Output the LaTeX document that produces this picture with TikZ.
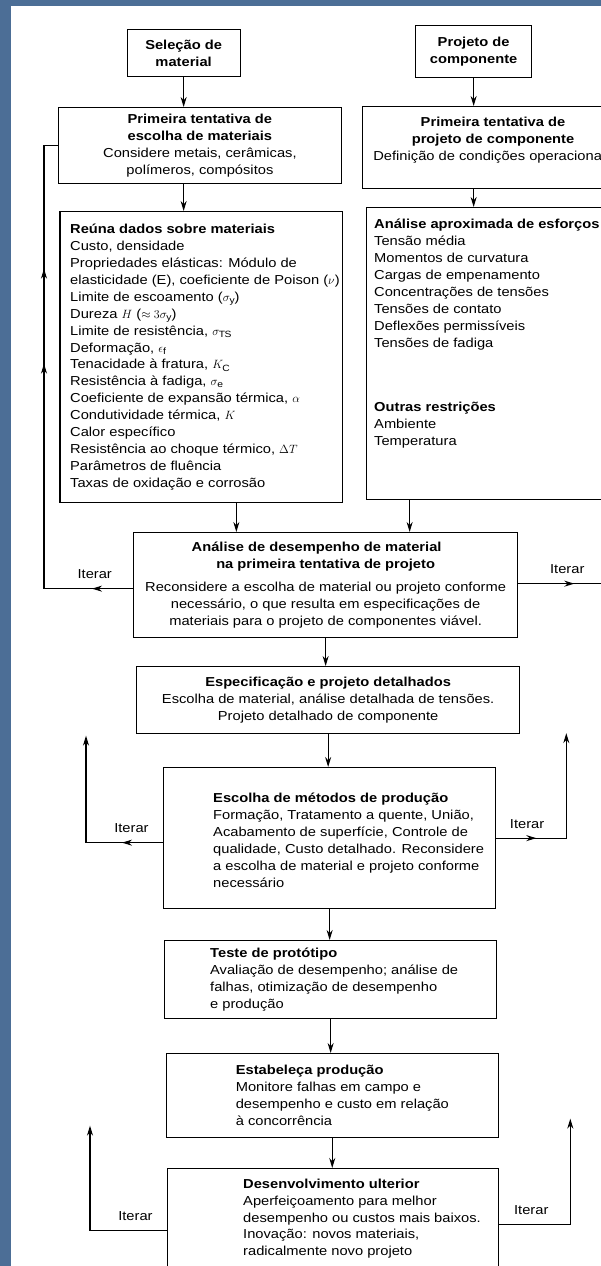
\documentclass[tikz,border=0pt]{standalone}
\usepackage{fontspec}
\setmainfont{Liberation Sans}[FakeStretch=1.13]
\usetikzlibrary{arrows.meta,decorations.markings}
\definecolor{SlideBlue}{RGB}{76,110,150}
\newcommand{\boxfont}{\fontsize{13}{16.9}\selectfont}
\newcommand{\tipmark}{\arrow{Stealth[length=10pt, width=6pt]}}

\begin{document}
\begin{tikzpicture}[
    x=1pt, y=-1pt,
    stagebox/.style={draw=black, line width=1.3pt, anchor=north west, inner sep=2pt,
                     align=center, font=\boxfont},
    stagetext/.style={inner sep=0pt, align=left, font=\boxfont},
    arrow/.style={-{Stealth[length=10pt, width=6pt]}, line width=1.2pt},
    backline/.style={line width=1.2pt},
    iterlabel/.style={above=9pt, inner sep=0pt, font=\boxfont},
    midtips/.style={postaction={decorate}, decoration={markings, #1}}
]
    % slide background
    \useasboundingbox (0,0) rectangle (601,1266);
    \clip (0,0) rectangle (601,1266);
    \fill[SlideBlue] (0,0) rectangle (601,1266);
    \fill[white] (11,6) rectangle (601,1266);

    % boxes
    \node[stagebox, minimum width=113pt, minimum height=47pt] (sel) at (126.5,29)
        {\textbf{Seleção de}\\\textbf{material}};
    \node[stagebox, minimum width=116pt, minimum height=52pt] (proj) at (415,25)
        {\textbf{Projeto de}\\\textbf{componente}};
    \node[stagebox, minimum width=283.5pt, minimum height=76pt] (esc) at (57.5,107)
        {\textbf{Primeira tentativa de}\\\textbf{escolha de materiais}\\
         Considere metais, cerâmicas,\\polímeros, compósitos};
    \node[stagebox, minimum width=280pt, minimum height=82pt] (pproj) at (362,106) {};
    \node[stagebox, minimum width=282.6pt, minimum height=291pt] (reu) at (59.4,211) {};
    \node[stagebox, minimum width=280pt, minimum height=292pt] (apr) at (366,207) {};
    \node[stagebox, minimum width=384pt, minimum height=105pt] (des) at (133,532)
        {\textbf{Análise de desempenho de material}\hspace*{18pt}\\
         \textbf{na primeira tentativa de projeto}\hspace*{18pt}\\[6pt]
         Reconsidere a escolha de material ou projeto conforme\\
         necessário, o que resulta em especificações de\\
         materiais para o projeto de componentes viável.};
    \node[stagebox, minimum width=383pt, minimum height=67pt] (spec) at (136,666)
        {\textbf{Especificação e projeto detalhados}\\
         Escolha de material, análise detalhada de tensões.\\
         Projeto detalhado de componente};
    \node[stagebox, minimum width=332pt, minimum height=141pt] (prod) at (163,767) {};
    \node[stagebox, minimum width=332pt, minimum height=78pt] (test) at (164,940) {};
    \node[stagebox, minimum width=332pt, minimum height=84pt] (est) at (165.6,1053) {};
    \node[stagebox, minimum width=331pt, minimum height=100pt] (dev) at (167,1168) {};

    % texts of the boxes
    \node[stagetext, align=center] (pprojT) at (493,140)
        {\textbf{Primeira tentativa de}\\\textbf{projeto de componente}\\
         Definição de condições operacionais};
    \node[stagetext, anchor=west] (reuT) at ([xshift=10.6pt]reu.west)
        {\textbf{Reúna dados sobre materiais}\\
         Custo, densidade\\
         Propriedades elásticas: Módulo de\\
         elasticidade (E), coeficiente de Poison ($\nu$)\\
         Limite de escoamento ($\sigma_{\mathrm{y}}$)\\
         Dureza $H$ ($\approx 3\sigma_{\mathrm{y}}$)\\
         Limite de resistência, $\sigma_{\mathrm{TS}}$\\
         Deformação, $\epsilon_{\mathrm{f}}$\\
         Tenacidade à fratura, $K_{\mathrm{C}}$\\
         Resistência à fadiga, $\sigma_{\mathrm{e}}$\\
         Coeficiente de expansão térmica, $\alpha$\\
         Condutividade térmica, $K$\\
         Calor específico\\
         Resistência ao choque térmico, $\Delta T$\\
         Parâmetros de fluência\\
         Taxas de oxidação e corrosão};
    \node[stagetext, anchor=north west] (aprT) at ([xshift=8pt, yshift=-12pt]apr.north west)
        {\textbf{Análise aproximada de esforços}\\
         Tensão média\\
         Momentos de curvatura\\
         Cargas de empenamento\\
         Concentrações de tensões\\
         Tensões de contato\\
         Deflexões permissíveis\\
         Tensões de fadiga\\[48pt]
         \textbf{Outras restrições}\\
         Ambiente\\
         Temperatura};
    \node[stagetext, anchor=west] (prodT) at ([xshift=50pt, yshift=-2pt]prod.west)
        {\textbf{Escolha de métodos de produção}\\
         Formação, Tratamento a quente, União,\\
         Acabamento de superfície, Controle de\\
         qualidade, Custo detalhado. Reconsidere\\
         a escolha de material e projeto conforme\\
         necessário};
    \node[stagetext, anchor=west] (testT) at ([xshift=46pt]test.west)
        {\textbf{Teste de protótipo}\\
         Avaliação de desempenho; análise de\\
         falhas, otimização de desempenho\\
         e produção};
    \node[stagetext, anchor=west] (estT) at ([xshift=70pt]est.west)
        {\textbf{Estabeleça produção}\\
         Monitore falhas em campo e\\
         desempenho e custo em relação\\
         à concorrência};
    \node[stagetext, anchor=west] (devT) at ([xshift=76pt]dev.west)
        {\textbf{Desenvolvimento ulterior}\\
         Aperfeiçoamento para melhor\\
         desempenho ou custos mais baixos.\\
         Inovação: novos materiais,\\
         radicalmente novo projeto};

    % main flow
    \draw[arrow] (sel.south) -- (sel.south |- esc.north);
    \draw[arrow] (proj.south) -- (proj.south |- pproj.north);
    \draw[arrow] (sel.south |- esc.south) -- (sel.south |- reu.north);
    \draw[arrow] (proj.south |- pproj.south) -- (proj.south |- apr.north);
    \draw[arrow] ([xshift=35pt]reu.south) -- ([xshift=35pt]reu.south |- des.north);
    \draw[arrow] ([xshift=-97pt]apr.south) -- ([xshift=-97pt]apr.south |- des.north);
    \draw[arrow] (des.south) -- (des.south |- spec.north);
    \draw[arrow] (spec.south) -- (spec.south |- prod.north);
    \draw[arrow] (prod.south) -- (prod.south |- test.north);
    \draw[arrow] (test.south) -- (test.south |- est.north);
    \draw[arrow] (est.south) -- (est.south |- dev.north);

    % iteration loops
    \draw[backline, midtips={mark=at position 41pt with {\tipmark},
                             mark=at position 314pt with {\tipmark},
                             mark=at position 409pt with {\tipmark}}]
        ([yshift=-3.5pt]des.west) -- ++(-89,0) node[iterlabel, pos=0.43] (it1) {Iterar}
        |- (esc.west);
    \draw[backline, midtips={mark=at position 56pt with {\tipmark}}]
        ([yshift=1.5pt]des.east) -- ++(100,0) node[iterlabel, pos=0.49] (it2) {Iterar};
    \draw[arrow, midtips={mark=at position 41pt with {\tipmark}}]
        ([yshift=-4.5pt]prod.west) -- ++(-77,0) node[iterlabel, pos=0.41] (it3) {Iterar}
        -- ++(0,-107);
    \draw[arrow, midtips={mark=at position 40pt with {\tipmark}}]
        (prod.east) -- ++(70,0) node[iterlabel, pos=0.44] (it4) {Iterar} -- ++(0,-105);
    \draw[arrow] ([yshift=-12pt]dev.west) -- ++(-77,0) node[iterlabel, pos=0.41] (it5) {Iterar}
        -- ++(0,-105);
    \draw[arrow] ([yshift=-6pt]dev.east) -- ++(71,0) node[iterlabel, pos=0.45] (it6) {Iterar}
        -- ++(0,-106);
\end{tikzpicture}
\end{document}
